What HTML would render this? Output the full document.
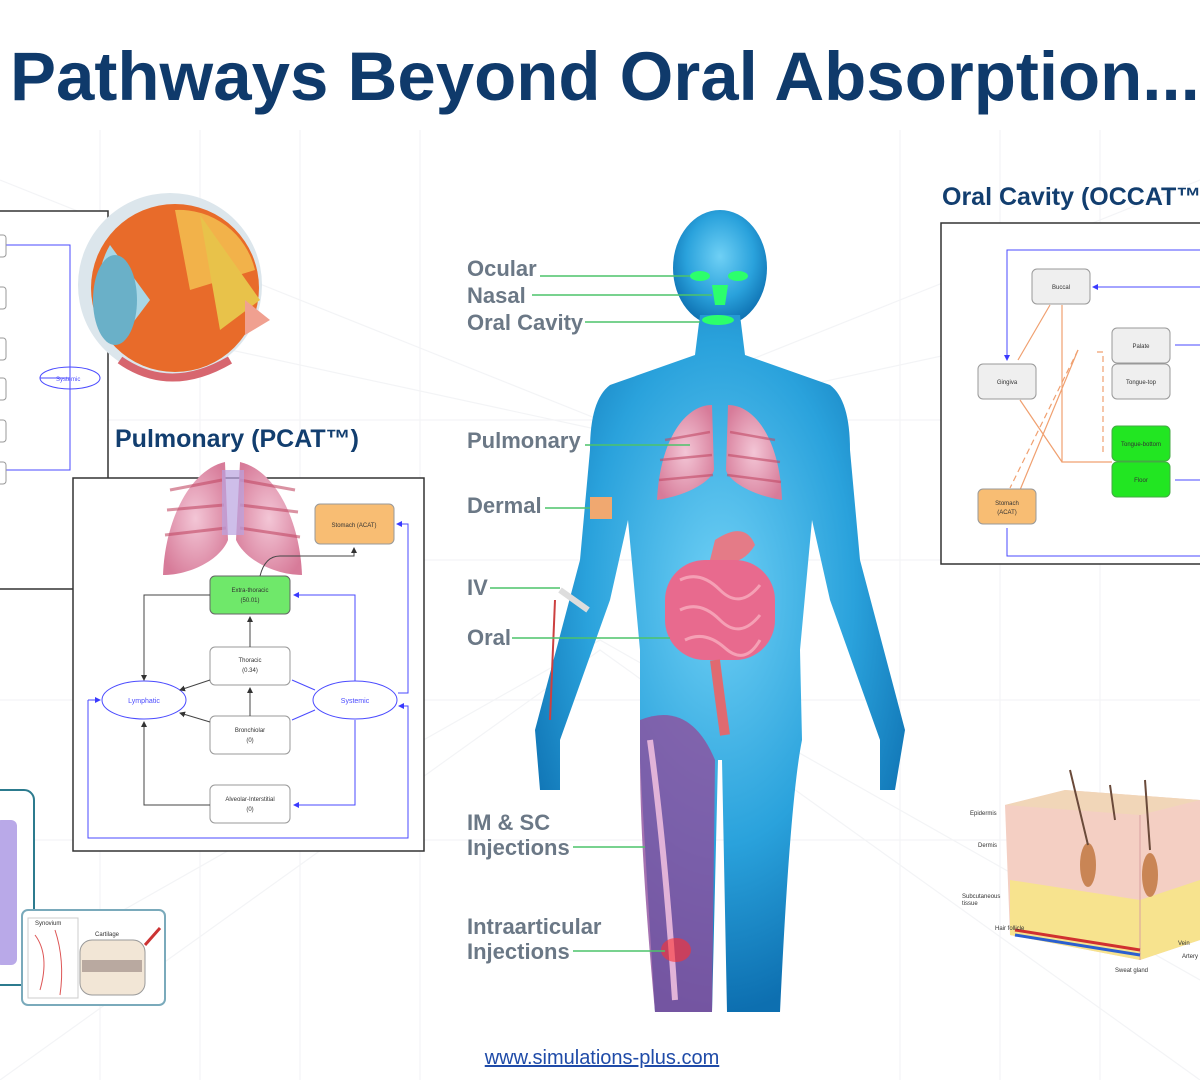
<!DOCTYPE html>
<html><head><meta charset="utf-8"><style>
html,body{margin:0;padding:0;background:#fff;width:1200px;height:1080px;overflow:hidden}
svg{display:block}
text{font-family:"Liberation Sans",sans-serif}
.lbl{font-size:22px;font-weight:bold;fill:#6b7886}
.sm{font-size:6px;fill:#333}
</style></head><body>
<svg width="1200" height="1080" viewBox="0 0 1200 1080" xmlns="http://www.w3.org/2000/svg">
<defs>
<radialGradient id="bodyg" cx="50%" cy="40%" r="60%"><stop offset="0" stop-color="#6fd0f5"/><stop offset="0.6" stop-color="#2aa2dc"/><stop offset="1" stop-color="#0d6fb0"/></radialGradient>
<radialGradient id="lung" cx="50%" cy="50%" r="60%"><stop offset="0" stop-color="#f3c6d6"/><stop offset="1" stop-color="#d77b99"/></radialGradient>
<marker id="ab" markerWidth="6" markerHeight="6" refX="5" refY="3" orient="auto"><path d="M0,0L6,3L0,6z" fill="#3a3aff"/></marker>
<marker id="ak" markerWidth="6" markerHeight="6" refX="5" refY="3" orient="auto"><path d="M0,0L6,3L0,6z" fill="#333"/></marker>
</defs>
<g stroke="#f3f4f6" stroke-width="1.2" fill="none">
<path d="M0,180L600,420L1200,180M0,300L600,430L1200,300M0,980L600,640L1200,980M0,1080L600,650L1200,1080"/>
<path d="M100,130V1080M200,130V1080M300,130V1080M420,130V1080M900,130V1080M1000,130V1080M1100,130V1080"/>
<path d="M0,420H1200M0,560H1200M0,700H1200M0,840H1200"/>
</g>
<text x="10" y="100" font-size="69" font-weight="bold" fill="#0f3a6b">Pathways Beyond Oral Absorption...</text>

<rect x="-2" y="211" width="110" height="378" fill="#fff" stroke="#333" stroke-width="1.5"/>
<g stroke="#4a4aff" fill="none" stroke-width="1"><path d="M5,245H70V470H5M70,378H40"/><ellipse cx="70" cy="378" rx="30" ry="11"/></g>
<text x="56" y="381" font-size="6" fill="#4a4aff">Systemic</text>
<g fill="#fff" stroke="#999"><rect x="-6" y="235" width="12" height="22" rx="3"/><rect x="-6" y="287" width="12" height="22" rx="3"/><rect x="-6" y="338" width="12" height="22" rx="3"/><rect x="-6" y="378" width="12" height="22" rx="3"/><rect x="-6" y="420" width="12" height="22" rx="3"/><rect x="-6" y="462" width="12" height="22" rx="3"/></g>

<circle cx="170" cy="285" r="92" fill="#dce6ec"/>
<circle cx="175" cy="288" r="84" fill="#e86b2a"/>
<path d="M175,210 A78,78 0 0,1 255,270 L190,290Z" fill="#f2b24a"/>
<path d="M110,245 A80,80 0 0,0 120,340 L150,300Z" fill="#a9d7e6"/>
<ellipse cx="115" cy="300" rx="22" ry="45" fill="#6ab0c8"/>
<path d="M200,215L260,300L220,330Z" fill="#e8c24a"/>
<path d="M120,360Q170,395 230,360" stroke="#d7666f" stroke-width="8" fill="none"/>
<path d="M245,300L270,320L245,335Z" fill="#f0a090"/>

<text x="115" y="447" font-size="25" font-weight="bold" fill="#123e6f">Pulmonary (PCAT™)</text>
<rect x="73" y="478" width="351" height="373" fill="#fff" stroke="#333" stroke-width="1.5"/>
<g fill="url(#lung)"><path d="M225,462C190,470 165,520 163,575 C190,575 220,560 228,540Z"/><path d="M240,462C275,470 300,520 302,575 C275,575 245,560 236,540Z"/></g>
<g stroke="#c24a66" stroke-width="3" opacity=".6"><path d="M170,490L222,480M167,510L224,505M165,535L226,528M240,480L295,490M240,505L298,512M240,528L300,537"/></g>
<rect x="222" y="470" width="22" height="65" fill="#b9a3e0" opacity=".7"/>
<g font-size="6" text-anchor="middle" fill="#333">
<rect x="315" y="504" width="79" height="40" rx="5" fill="#f8bd73" stroke="#999"/><text x="354" y="527">Stomach (ACAT)</text>
<rect x="210" y="576" width="80" height="38" rx="5" fill="#6fe86a" stroke="#666"/><text x="250" y="592">Extra-thoracic</text><text x="250" y="602">(50.01)</text>
<rect x="210" y="647" width="80" height="38" rx="5" fill="#fff" stroke="#999"/><text x="250" y="662">Thoracic</text><text x="250" y="672">(0.34)</text>
<rect x="210" y="716" width="80" height="38" rx="5" fill="#fff" stroke="#999"/><text x="250" y="732">Bronchiolar</text><text x="250" y="742">(0)</text>
<rect x="210" y="785" width="80" height="38" rx="5" fill="#fff" stroke="#999"/><text x="250" y="801">Alveolar-Interstitial</text><text x="250" y="811">(0)</text>
</g>
<ellipse cx="144" cy="700" rx="42" ry="19" fill="#fff" stroke="#4a4aff"/><text x="144" y="703" font-size="7" fill="#4a4aff" text-anchor="middle">Lymphatic</text>
<ellipse cx="355" cy="700" rx="42" ry="19" fill="#fff" stroke="#4a4aff"/><text x="355" y="703" font-size="7" fill="#4a4aff" text-anchor="middle">Systemic</text>
<g stroke="#444" fill="none" stroke-width="1">
<path d="M210,595H144V680" marker-end="url(#ak)"/><path d="M250,647V617" marker-end="url(#ak)"/><path d="M250,716V688" marker-end="url(#ak)"/>
<path d="M210,680L180,690" marker-end="url(#ak)"/><path d="M210,722L180,713" marker-end="url(#ak)"/>
<path d="M210,805H144V722" marker-end="url(#ak)"/><path d="M260,576Q265,556 280,556H354V548" marker-end="url(#ak)"/>
</g>
<g stroke="#4a4aff" fill="none" stroke-width="1">
<path d="M355,681V595H294" marker-end="url(#ab)"/><path d="M355,720V805H294" marker-end="url(#ab)"/>
<path d="M398,693H408V524H397" marker-end="url(#ab)"/><path d="M292,680L315,690"/><path d="M292,720L315,710"/>
<path d="M88,700V838H408V706H399" marker-end="url(#ab)"/><path d="M88,700H100" marker-end="url(#ab)"/>
</g>

<rect x="-10" y="790" width="44" height="195" rx="10" fill="#fff" stroke="#2c7b8e" stroke-width="2"/>
<rect x="-5" y="820" width="22" height="145" rx="6" fill="#b9a9e8"/>
<rect x="22" y="910" width="143" height="95" rx="6" fill="#fff" stroke="#7aaabb" stroke-width="2"/>
<rect x="28" y="918" width="50" height="80" fill="#fff" stroke="#ccc"/>
<path d="M35,935Q50,955 40,990M55,930Q65,960 60,995" stroke="#d55" fill="none"/>
<rect x="80" y="940" width="65" height="55" rx="12" fill="#f2e6d6" stroke="#999"/>
<rect x="82" y="960" width="60" height="12" fill="#b9a9a0"/>
<text x="35" y="925" class="sm">Synovium</text><text x="95" y="936" class="sm">Cartilage</text>
<path d="M145,945L160,928" stroke="#c33" stroke-width="3"/>

<g fill="url(#bodyg)">
<ellipse cx="720" cy="268" rx="47" ry="58"/>
<path d="M700,315H740L745,355L830,385Q850,400 850,450L860,560L905,730L895,790L880,790L880,740L830,600L812,520L800,650L802,740Q790,800 780,1012H727L722,760H718L712,1012H655Q645,850 640,760L640,650L628,520L610,600L560,740L560,790L540,790L535,730L580,560L590,450Q590,400 610,385L695,355Z"/>
</g>
<path d="M640,720Q690,700 715,760L712,1012H655Q640,850 640,760Z" fill="#8e4f9e" opacity=".8"/>
<path d="M650,740Q665,850 675,1000" stroke="#e1b3d8" stroke-width="6" fill="none"/>
<ellipse cx="676" cy="950" rx="15" ry="12" fill="#ff3030" opacity=".6"/>
<g fill="url(#lung)"><path d="M712,405C685,405 660,440 657,500C690,495 712,480 714,470Z"/><path d="M728,405C755,405 780,440 782,500C750,495 728,480 726,470Z"/></g>
<g stroke="#c24a66" stroke-width="2.5" opacity=".6"><path d="M665,440L710,432M660,460L712,455M659,480L713,475M730,432L775,440M728,455L780,462M727,475L781,482"/></g>
<path d="M715,540Q745,520 755,545Q740,570 710,560Z" fill="#e47b87"/>
<rect x="665" y="560" width="110" height="100" rx="40" fill="#e86a8e"/>
<g stroke="#f5a0b5" stroke-width="3" fill="none"><path d="M680,580Q700,570 720,590T760,585M680,610Q700,600 720,620T760,615M685,640Q705,630 725,648T760,640"/></g>
<path d="M715,660Q720,700 725,735" stroke="#e06a70" stroke-width="10" fill="none"/>
<rect x="590" y="497" width="22" height="22" fill="#f0a870"/>
<path d="M560,590L588,610" stroke="#ddd" stroke-width="6"/>
<path d="M555,600L550,720" stroke="#cc4040" stroke-width="2"/>
<g fill="#2cff6c"><ellipse cx="700" cy="276" rx="10" ry="5"/><ellipse cx="738" cy="276" rx="10" ry="5"/><path d="M712,285L728,285L725,305L715,305Z"/><ellipse cx="718" cy="320" rx="16" ry="5"/></g>

<g>
<text x="467" y="276" class="lbl">Ocular</text><text x="467" y="303" class="lbl">Nasal</text><text x="467" y="330" class="lbl">Oral Cavity</text>
<text x="467" y="448" class="lbl">Pulmonary</text><text x="467" y="513" class="lbl">Dermal</text><text x="467" y="595" class="lbl">IV</text><text x="467" y="645" class="lbl">Oral</text>
<text x="467" y="830" class="lbl">IM &amp; SC</text><text x="467" y="855" class="lbl">Injections</text>
<text x="467" y="934" class="lbl">Intraarticular</text><text x="467" y="959" class="lbl">Injections</text>
</g>
<g stroke="#4cc36a" stroke-width="1.5"><path d="M540,276H690M532,295H712M585,322H700M585,445H690M545,508H590M490,588H560M512,638H670M573,847H645M573,951H665"/></g>

<text x="942" y="205" font-size="25" font-weight="bold" fill="#123e6f">Oral Cavity (OCCAT™)</text>
<rect x="941" y="223" width="270" height="341" fill="#fff" stroke="#333" stroke-width="1.5"/>
<g stroke="#4a4aff" fill="none"><path d="M1210,250H1007V360" marker-end="url(#ab)"/><path d="M1210,287H1093" marker-end="url(#ab)"/><path d="M1200,345H1175M1200,480H1175M1210,556H1007V528"/></g>
<g stroke="#f0a070" fill="none" stroke-width="1.2"><path d="M1050,305L1018,360M1062,305V462H1112M1020,400L1062,462M1078,350L1020,490" /><path d="M1097,352H1103V455" stroke-dasharray="6,4"/><path d="M1078,350L1010,488" stroke-dasharray="6,4"/></g>
<g font-size="6" text-anchor="middle" fill="#333">
<rect x="1032" y="269" width="58" height="35" rx="5" fill="#efefef" stroke="#999"/><text x="1061" y="289">Buccal</text>
<rect x="1112" y="328" width="58" height="35" rx="5" fill="#efefef" stroke="#999"/><text x="1141" y="348">Palate</text>
<rect x="1112" y="364" width="58" height="35" rx="5" fill="#efefef" stroke="#999"/><text x="1141" y="384">Tongue-top</text>
<rect x="978" y="364" width="58" height="35" rx="5" fill="#efefef" stroke="#999"/><text x="1007" y="384">Gingiva</text>
<rect x="1112" y="426" width="58" height="35" rx="5" fill="#22e622" stroke="#4a4"/><text x="1141" y="446">Tongue-bottom</text>
<rect x="1112" y="462" width="58" height="35" rx="5" fill="#22e622" stroke="#4a4"/><text x="1141" y="482">Floor</text>
<rect x="978" y="489" width="58" height="35" rx="5" fill="#f8bd73" stroke="#999"/><text x="1007" y="505">Stomach</text><text x="1007" y="514">(ACAT)</text>
</g>

<path d="M1005,805L1065,790L1200,800L1200,940L1140,960L1010,935Z" fill="#f4cfc3"/>
<path d="M1005,805L1065,790L1200,800L1140,815Z" fill="#f1d6b8"/>
<path d="M1010,880L1140,900L1200,880L1200,940L1140,960L1010,935Z" fill="#f7e38e"/>
<path d="M1140,815V960" stroke="#d9a0a0"/>
<ellipse cx="1088" cy="865" rx="8" ry="22" fill="#c98555"/><ellipse cx="1150" cy="875" rx="8" ry="22" fill="#c98555"/>
<path d="M1015,935L1140,955" stroke="#2b5fd0" stroke-width="3"/><path d="M1015,930L1140,950" stroke="#d03030" stroke-width="3"/>
<path d="M1070,770L1088,845M1145,780L1150,850M1110,785L1115,820" stroke="#6a4a3a" stroke-width="2"/>
<g class="sm" font-size="5"><text x="970" y="815">Epidermis</text><text x="978" y="847">Dermis</text><text x="962" y="898">Subcutaneous</text><text x="962" y="905">tissue</text><text x="995" y="930">Hair follicle</text><text x="1115" y="972">Sweat gland</text><text x="1178" y="945">Vein</text><text x="1182" y="958">Artery</text></g>

<text x="602" y="1064" font-size="20" fill="#1f4ba8" text-anchor="middle" text-decoration="underline">www.simulations-plus.com</text>
</svg>
</body></html>
